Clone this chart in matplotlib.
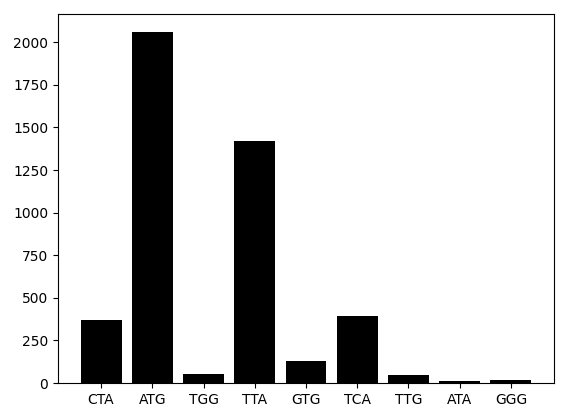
import matplotlib
matplotlib.use('Agg')
import matplotlib.pyplot as plt

codons = ['CTA', 'ATG', 'TGG', 'TTA', 'GTG', 'TCA', 'TTG', 'ATA', 'GGG']
counts = [368, 2063, 51, 1423, 127, 391, 45, 13, 17]

fig = plt.figure(figsize=(5.63, 4.11), dpi=100)
ax = fig.add_axes([58/563, 28/411, 496/563, 369/411])
ax.bar(codons, counts, color='black')

fig.savefig('out.png', dpi=100)
